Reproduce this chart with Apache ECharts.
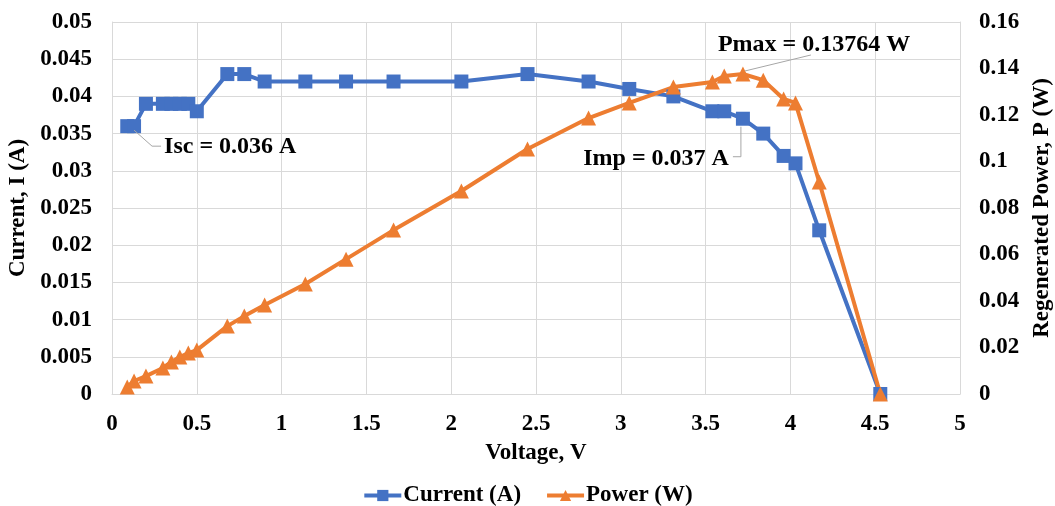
<!DOCTYPE html>
<html>
<head>
<meta charset="utf-8">
<script src="https://cdn.jsdelivr.net/npm/echarts@6/dist/echarts.min.js"></script>
<style>
  html, body { margin: 0; padding: 0; background: #fff; }
  #chart { width: 1055px; height: 506px; }
</style>
</head>
<body>
<div id="chart"></div>
<script>
// voltage readings (V)
const voltage = [0.09, 0.13, 0.2, 0.3, 0.35, 0.4, 0.45, 0.5, 0.68, 0.78, 0.9, 1.14, 1.38, 1.66, 2.06, 2.45, 2.81, 3.05, 3.31, 3.54, 3.61, 3.72, 3.84, 3.96, 4.03, 4.17, 4.53];
// current (A)
const current = [0.036, 0.036, 0.039, 0.039, 0.039, 0.039, 0.039, 0.038, 0.043, 0.043, 0.042, 0.042, 0.042, 0.042, 0.042, 0.043, 0.042, 0.041, 0.040, 0.038, 0.038, 0.037, 0.035, 0.032, 0.031, 0.022, 0];
// regenerated power (W)
const power = [0.0030, 0.0056, 0.0077, 0.0112, 0.0138, 0.0159, 0.0176, 0.0189, 0.0292, 0.0335, 0.0383, 0.0473, 0.058, 0.0705, 0.0873, 0.1054, 0.1187, 0.1252, 0.132, 0.1342, 0.1368, 0.13764, 0.135, 0.1269, 0.1252, 0.0912, 0];

const font = 'Liberation Serif, Times New Roman, serif';
const gridColor = '#d9d9d9';
const labelStyle = { color: '#000', fontFamily: font, fontWeight: 'bold', fontSize: 23 };
const nameStyle = { color: '#000', fontFamily: font, fontWeight: 'bold', fontSize: 23 };

const chart = echarts.init(document.getElementById('chart'));

const option = {
  animation: false,
  grid: { left: 112, right: 95, top: 22, bottom: 112, outerBoundsMode: 'none' },
  legend: {
    top: 479,
    left: 'center',
    itemWidth: 37,
    itemHeight: 14,
    itemGap: 24,
    lineStyle: { width: 4 },
    textStyle: { color: '#000', fontFamily: font, fontWeight: 'bold', fontSize: 23, padding: [0, 0, 0, -3] },
    data: ['Current (A)', 'Power (W)']
  },
  xAxis: {
    type: 'value',
    min: 0, max: 5, interval: 0.5,
    name: 'Voltage, V',
    nameLocation: 'middle',
    nameGap: 48,
    nameTextStyle: nameStyle,
    axisLine: { show: true, lineStyle: { color: gridColor } },
    axisTick: { show: false },
    axisLabel: Object.assign({ margin: 19 }, labelStyle),
    splitLine: { show: true, lineStyle: { color: gridColor, width: 1 } }
  },
  yAxis: [
    {
      type: 'value',
      min: 0, max: 0.05, interval: 0.005,
      name: 'Current, I (A)',
      nameLocation: 'middle',
      nameGap: 76,
      nameTextStyle: nameStyle,
      axisLine: { show: true, lineStyle: { color: gridColor } },
      axisTick: { show: false },
      axisLabel: Object.assign({ margin: 20 }, labelStyle),
      splitLine: { show: true, lineStyle: { color: gridColor, width: 1 } }
    },
    {
      type: 'value',
      position: 'right',
      min: 0, max: 0.16, interval: 0.02,
      name: 'Regenerated Power, P (W)',
      nameLocation: 'middle',
      nameGap: 67,
      nameRotate: 90,
      nameTextStyle: nameStyle,
      axisLine: { show: true, lineStyle: { color: gridColor } },
      axisTick: { show: false },
      axisLabel: Object.assign({ margin: 19 }, labelStyle),
      splitLine: { show: false }
    }
  ],
  series: [
    {
      name: 'Current (A)',
      type: 'line',
      yAxisIndex: 0,
      data: voltage.map((v, i) => [v, current[i]]),
      symbol: 'rect',
      symbolSize: 14,
      color: '#4472C4',
      lineStyle: { width: 4, color: '#4472C4' },
      itemStyle: { color: '#4472C4', borderRadius: 2 }
    },
    {
      name: 'Power (W)',
      type: 'line',
      yAxisIndex: 1,
      data: voltage.map((v, i) => [v, power[i]]),
      symbol: 'triangle',
      symbolSize: 15,
      color: '#ED7D31',
      lineStyle: { width: 4, color: '#ED7D31' },
      itemStyle: { color: '#ED7D31' }
    }
  ]
};
chart.setOption(option);

// annotations with leader lines, anchored to data points
function px(axis, v, y) {
  return chart.convertToPixel({ xAxisIndex: 0, yAxisIndex: axis }, [v, y]);
}
const annStyle = { fill: '#000', font: 'bold 24px ' + font };
const leader = { stroke: '#a6a6a6', lineWidth: 1 };

const isc = px(0, voltage[1], current[1]);
const imp = px(0, voltage[21], current[21]);
const pmax = px(1, voltage[21], power[21]);

chart.setOption({
  graphic: [
    { type: 'polyline', shape: { points: [[isc[0], isc[1] + 4], [isc[0] + 18, isc[1] + 20], [isc[0] + 27, isc[1] + 20]] }, style: leader, z: 100 },
    { type: 'text', x: isc[0] + 30, y: isc[1] + 21, style: Object.assign({ text: 'Isc = 0.036 A', verticalAlign: 'middle' }, annStyle), z: 100 },
    { type: 'polyline', shape: { points: [[imp[0] - 2, imp[1] + 8], [imp[0] - 2, imp[1] + 38], [imp[0] - 10, imp[1] + 38]] }, style: leader, z: 100 },
    { type: 'text', x: imp[0] - 14, y: imp[1] + 40, style: Object.assign({ text: 'Imp = 0.037 A', align: 'right', verticalAlign: 'middle' }, annStyle), z: 100 },
    { type: 'line', shape: { x1: pmax[0] + 2, y1: pmax[1] - 3, x2: pmax[0] + 68, y2: pmax[1] - 19 }, style: leader, z: 100 },
    { type: 'text', x: pmax[0] - 25, y: pmax[1] - 29, style: Object.assign({ text: 'Pmax = 0.13764 W', verticalAlign: 'middle' }, annStyle), z: 100 }
  ]
});
</script>
</body>
</html>
